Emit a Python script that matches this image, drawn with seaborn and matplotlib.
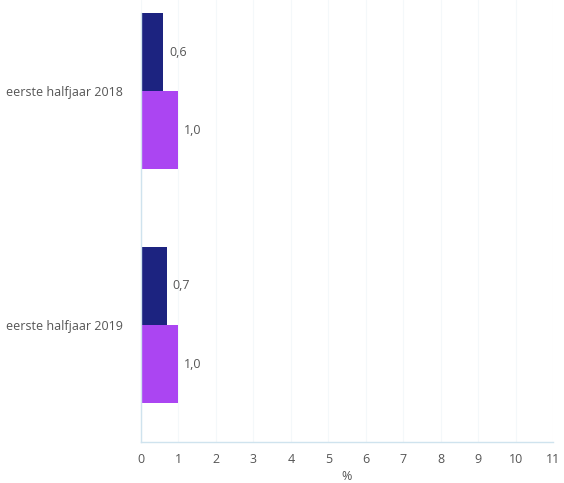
import pandas as pd
import matplotlib.pyplot as plt
import seaborn as sns

# Gegevens
perioden = ["eerste halfjaar 2018", "eerste halfjaar 2019"]
reeksen = ["reeks A", "reeks B"]
waarden_a = [0.6, 0.7]
waarden_b = [1.0, 1.0]
labels_a = ["0,6", "0,7"]
labels_b = ["1,0", "1,0"]
x_ticks = list(range(0, 12))

kleuren = {"reeks A": "#1c2380", "reeks B": "#ab45f2"}

df = pd.DataFrame({
    "periode": perioden * 2,
    "reeks": [reeksen[0]] * 2 + [reeksen[1]] * 2,
    "waarde": waarden_a + waarden_b,
    "label": labels_a + labels_b,
})

sns.set_style("white")
plt.rcParams["font.family"] = ["Open Sans", "DejaVu Sans"]

fig = plt.figure(figsize=(5.64, 4.83), dpi=100)
ax = fig.add_axes([141 / 564, 1 - 442 / 483, (553 - 141) / 564, 442 / 483])

sns.barplot(data=df, y="periode", x="waarde", hue="reeks", palette=kleuren,
            orient="h", width=0.667, gap=0, legend=False, ax=ax,
            saturation=1, linewidth=0)

# Waardelabels naast de balken
for cont, labels in zip(ax.containers, [labels_a, labels_b]):
    ax.bar_label(cont, labels=labels, padding=4, fontsize=9, color="#555555")

ax.set_xlim(0, 11)
ax.set_ylim(1.5, -0.389)
ax.set_xticks(x_ticks)
ax.set_xticklabels([str(t) for t in x_ticks])
ax.set_xlabel("%", fontsize=9, color="#555555", labelpad=3)
ax.set_ylabel("")

ax.grid(axis="x", color="#f4f8fa", linewidth=0.8)
ax.set_axisbelow(True)
for s in ["top", "right"]:
    ax.spines[s].set_visible(False)
for s in ["left", "bottom"]:
    ax.spines[s].set_color("#cfe3ee")
    ax.spines[s].set_linewidth(1)
ax.spines["left"].set_bounds(1.5, -0.333)

ax.tick_params(axis="both", length=0, labelsize=9, labelcolor="#555555")
ax.tick_params(axis="y", pad=13)
ax.tick_params(axis="x", pad=8)

plt.savefig("out.png", dpi=100)
